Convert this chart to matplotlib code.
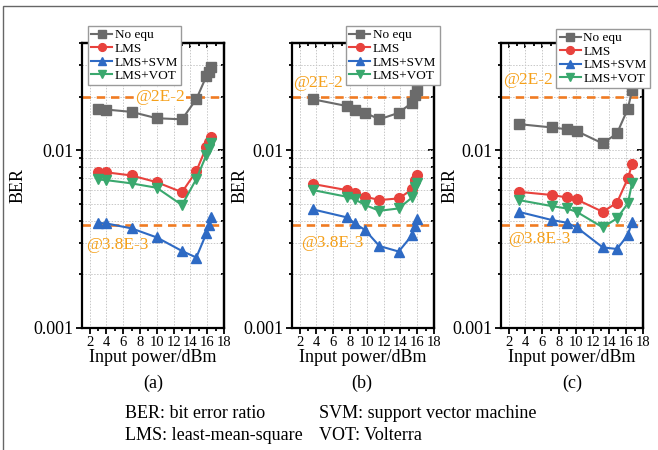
import numpy as np
import matplotlib
matplotlib.use("Agg")
import matplotlib.pyplot as plt
from matplotlib.patches import Rectangle
from matplotlib.ticker import LogLocator, NullFormatter, FixedLocator, FixedFormatter

plt.rcParams['font.family'] = ['Liberation Serif', 'DejaVu Serif']

# ---- data ----
series_names = ['No equ', 'LMS', 'LMS+SVM', 'LMS+VOT']

# panel (a)
power_a = [3.0, 4.0, 7.0, 10.0, 13.0, 14.7, 15.9, 16.2, 16.5]
noequ_a = [0.0170, 0.0169, 0.0164, 0.0151, 0.0149, 0.0193, 0.0260, 0.0275, 0.0295]
lms_a = [0.0075, 0.0075, 0.0072, 0.0066, 0.0058, 0.0076, 0.0104, 0.0111, 0.0118]
svm_a = [0.0039, 0.00387, 0.00363, 0.00323, 0.00271, 0.00249, 0.0034, 0.0038, 0.00422]
vot_a = [0.00684, 0.00678, 0.0065, 0.00614, 0.00491, 0.00687, 0.00937, 0.0102, 0.0109]

# panel (b)
power_b = [3.6, 7.6, 8.6, 9.8, 11.5, 13.8, 15.4, 15.7, 16.0]
noequ_b = [0.0193, 0.0177, 0.0169, 0.0162, 0.0149, 0.0162, 0.0185, 0.0204, 0.0219]
lms_b = [0.00645, 0.00596, 0.00571, 0.00547, 0.00524, 0.00535, 0.00602, 0.00678, 0.00724]
svm_b = [0.00464, 0.00419, 0.00387, 0.00355, 0.00289, 0.00269, 0.00333, 0.00374, 0.00408]
vot_b = [0.00596, 0.00547, 0.00528, 0.00491, 0.00456, 0.0047, 0.00542, 0.00622, 0.00654]

# panel (c)
power_c = [3.2, 7.2, 8.9, 10.1, 13.2, 14.9, 16.2, 16.7]
noequ_c = [0.0140, 0.0134, 0.0131, 0.0128, 0.0109, 0.0124, 0.0171, 0.0217]
lms_c = [0.00583, 0.00559, 0.00542, 0.00528, 0.0045, 0.00506, 0.00694, 0.00832]
svm_c = [0.0045, 0.00404, 0.00391, 0.00368, 0.00284, 0.00278, 0.00333, 0.00396]
vot_c = [0.00524, 0.00484, 0.0047, 0.0045, 0.00368, 0.00413, 0.00502, 0.00654]

thresholds = [2e-2, 3.8e-3]
threshold_labels = ['@2E-2', '@3.8E-3']
xticks = [2, 4, 6, 8, 10, 12, 14, 16, 18]
panel_labels = ['(a)', '(b)', '(c)']

colors = ['#6b6b6b', '#e8423d', '#2e6ac4', '#3aa86e']
markers = ['s', 'o', '^', 'v']
orange_line = '#f07b22'
orange_text = '#f5a01a'

W, H = 658, 450
fig = plt.figure(figsize=(W / 100, H / 100), dpi=100)

# outer frame of the original figure
fig.patches.append(Rectangle((3 / W, -0.2), 1.2, 1.2 - 6 / H, transform=fig.transFigure,
                             fill=False, edgecolor='#666666', linewidth=1.0))


def px_axes(left, right, top, bottom):
    return fig.add_axes([left / W, 1 - bottom / H, (right - left) / W, (bottom - top) / H])


panels = [
    (82, power_a, [noequ_a, lms_a, svm_a, vot_a], (0.04, 1.06),
     [(7.45, 0.0199), (1.58, 0.00292)], 27, 153),
    (292, power_b, [noequ_b, lms_b, svm_b, vot_b], (0.38, 1.06),
     [(1.18, 0.0238), (2.18, 0.0030)], 249, 362),
    (501, power_c, [noequ_c, lms_c, svm_c, vot_c], (0.39, 1.05),
     [(1.30, 0.0247), (1.94, 0.00316)], 459, 572),
]

for i, (left, xs, ys_list, leg_pos, txt_pos, ylab_x, lab_x) in enumerate(panels):
    ax = px_axes(left, left + 142, 43, 328)
    ax.set_yscale('log')
    ax.set_xlim(1.1, 18)
    ax.set_ylim(0.001, 0.04)

    ax.grid(True, which='major', axis='x', color='#c8c8c8', linestyle=(0, (1.5, 1.5)), linewidth=0.7)
    ax.grid(True, which='both', axis='y', color='#c8c8c8', linestyle=(0, (1.5, 1.5)), linewidth=0.7)
    ax.set_axisbelow(True)

    for th in thresholds:
        ax.axhline(th, color=orange_line, linestyle=(0, (3.2, 2.2)), linewidth=1.9, zorder=2)

    for name, ys, c, m in zip(series_names, ys_list, colors, markers):
        ax.plot(xs, ys, color=c, marker=m, markersize=7, linewidth=1.5, label=name, zorder=3)

    for (tx, ty), lab in zip(txt_pos, threshold_labels):
        t = ax.text(tx, ty, lab, color=orange_text, fontsize=12.5, ha='left', va='center', zorder=4)
        if i == 0 and lab == '@2E-2':
            t.set_bbox(dict(facecolor='white', edgecolor='none', pad=0.5))

    ax.xaxis.set_major_locator(FixedLocator(xticks))
    ax.xaxis.set_minor_locator(FixedLocator(np.arange(1, 18, 2)))
    ax.set_xticklabels([str(v) for v in xticks])
    ax.yaxis.set_major_locator(FixedLocator([0.001, 0.01]))
    ax.yaxis.set_major_formatter(FixedFormatter(['0.001', '0.01']))
    ax.yaxis.set_minor_locator(LogLocator(base=10, subs=np.arange(2, 10), numticks=10))
    ax.yaxis.set_minor_formatter(NullFormatter())

    ax.tick_params(axis='both', which='both', direction='out', top=False, right=False, width=1.3)
    ax.tick_params(axis='both', which='major', length=4)
    ax.tick_params(axis='both', which='minor', length=2.5)
    ax.tick_params(axis='x', labelsize=10.5, pad=2)
    ax.tick_params(axis='y', labelsize=13, pad=2)

    # mirrored inward ticks on top and right
    sec_y = ax.secondary_yaxis('right')
    sec_y.yaxis.set_major_locator(FixedLocator([0.001, 0.01]))
    sec_y.yaxis.set_minor_locator(LogLocator(base=10, subs=np.arange(2, 10), numticks=10))
    sec_y.tick_params(which='both', direction='in', labelright=False, width=1.3)
    sec_y.tick_params(which='major', length=4)
    sec_y.tick_params(which='minor', length=2.5)
    sec_y.spines['right'].set_linewidth(1.6)
    sec_x = ax.secondary_xaxis('top')
    sec_x.xaxis.set_major_locator(FixedLocator(xticks))
    sec_x.xaxis.set_minor_locator(FixedLocator(np.arange(1, 18, 2)))
    sec_x.tick_params(which='both', direction='in', labeltop=False, width=1.3)
    sec_x.tick_params(which='major', length=3.5)
    sec_x.tick_params(which='minor', length=2)
    sec_x.spines['top'].set_linewidth(1.6)

    for sp in ax.spines.values():
        sp.set_linewidth(1.6)

    ax.set_xlabel('Input power/dBm', fontsize=13, labelpad=0)
    ax.set_ylabel('BER', fontsize=13)
    ax.yaxis.set_label_coords((ylab_x - left) / 142, 0.5)

    leg = ax.legend(loc='upper left', bbox_to_anchor=leg_pos, fontsize=9.5, frameon=True,
                    fancybox=False, edgecolor='#9a9a9a', framealpha=1, borderpad=0.25,
                    labelspacing=0.1, handlelength=1.6, handletextpad=0.2, markerscale=0.8,
                    borderaxespad=0)
    leg.get_frame().set_linewidth(1.0)
    leg.set_zorder(10)

    fig.text(lab_x / W, 1 - 383 / H, panel_labels[i], fontsize=13, ha='center', va='center')

fig.text(125 / W, 1 - 414 / H, 'BER: bit error ratio', fontsize=13, ha='left', va='center')
fig.text(125 / W, 1 - 435 / H, 'LMS: least-mean-square', fontsize=13, ha='left', va='center')
fig.text(319 / W, 1 - 414 / H, 'SVM: support vector machine', fontsize=13, ha='left', va='center')
fig.text(319 / W, 1 - 435 / H, 'VOT: Volterra', fontsize=13, ha='left', va='center')

fig.savefig('out.png', dpi=100)
